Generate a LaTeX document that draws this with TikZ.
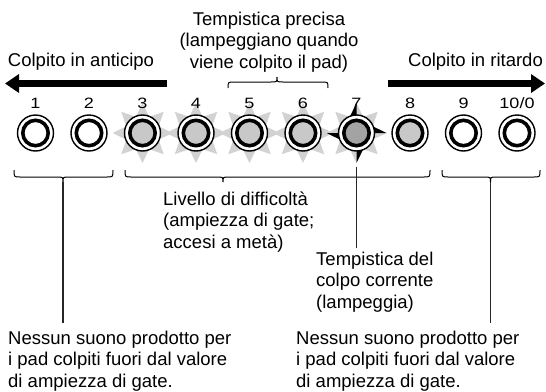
\documentclass[tikz,border=0pt]{standalone}
\usepackage{fontspec}
\setmainfont{Liberation Sans}
\newfontfamily\numfont[FakeStretch=1.2]{Liberation Sans}
\usetikzlibrary{calc,arrows.meta}
\definecolor{padgray}{HTML}{C8C8C8}
\definecolor{paddark}{HTML}{A3A3A3}
\definecolor{raygray}{HTML}{D2D2D2}
\begin{document}
\begin{tikzpicture}[x=1pt,y=-1pt,
  txt/.style={font=\fontsize{18.5}{21.5}\selectfont, inner sep=0pt},
  num/.style={font=\numfont\fontsize{15}{16}\selectfont, inner sep=0pt, anchor=base},
  padouter/.style={circle, draw=black, line width=1.4pt, fill=white, minimum size=36pt, inner sep=0pt},
  padinner/.style={circle, draw=black, line width=3.6pt, minimum size=25.4pt, inner sep=0pt},
  bracepath/.style={line width=1pt},
  lead/.style={line width=1.3pt, draw=black!85},
  bigarrow/.style={line width=7pt, -{Triangle[length=14pt,width=18pt]}}
]
\useasboundingbox (0,0) rectangle (546,391);

% light rays
\foreach \i in {3,...,7}{
  \pgfmathsetmacro\px{35.5+53.5*(\i-1)}
  \begin{scope}[shift={(\px,133)}, yscale=-1]
    \foreach \a in {0,45,...,315}{
      \fill[raygray] (\a:30) -- (\a+22.5:17.5) -- (\a-22.5:17.5) -- cycle;
    }
  \end{scope}
}
% current hit: dark half rays on pad 7
\begin{scope}[shift={(356.5,133)}, yscale=-1]
  \foreach \a in {0,90,180,270}{
    \fill[black] (\a:30) -- (\a+22.5:17.5) -- (\a:16.2) -- cycle;
  }
\end{scope}

% pads
\foreach \i/\lab/\col in {1/1/white,2/2/white,3/3/padgray,4/4/padgray,5/5/padgray,6/6/padgray,7/7/paddark,8/8/padgray,9/9/white,10/{10/0}/white}{
  \pgfmathsetmacro\px{35.5+53.5*(\i-1)}
  \node[padouter] (p\i) at (\px,133) {};
  \node[padinner, fill=\col] (q\i) at (p\i.center) {};
  \node[num] (n\i) at (\px,108.5) {\lab};
}

% arrows
\coordinate (al0) at (167,83.5); \coordinate (al1) at (5,83.5);
\coordinate (ar0) at (388,83.5); \coordinate (ar1) at (545,83.5);
\draw[bigarrow] (al0) -- (al1);
\draw[bigarrow] (ar0) -- (ar1);

% texts
\node[txt, align=center, anchor=north] (tprec) at (269,11.75) {Tempistica precisa\\(lampeggiano quando\\viene colpito il pad)};
\node[txt, anchor=base] (tearly) at (81,66) {Colpito in anticipo};
\node[txt, anchor=base] (tlate) at (475.5,66) {Colpito in ritardo};
\node[txt, align=left, anchor=north west] (tlev) at (163,191.2) {Livello di difficoltà\\(ampiezza di gate;\\accesi a metà)};
\node[txt, align=left, anchor=north west] (tcur) at (316,251.75) {Tempistica del\\colpo corrente\\(lampeggia)};
\node[txt, align=left, anchor=north west] (tnl) at (8,330.75) {Nessun suono prodotto per\\i pad colpiti fuori dal valore\\di ampiezza di gate.};
\node[txt, align=left, anchor=north west] (tnr) at (296,330.75) {Nessun suono prodotto per\\i pad colpiti fuori dal valore\\di ampiezza di gate.};

% top brace
\coordinate (bt) at (277,77);
\draw[bracepath] (228,88) .. controls (228,82) .. (234,82) -- (271,82) .. controls (277,82) .. (bt) .. controls (277,82) .. (283,82) -- (322,82) .. controls (328,82) .. (328,88);

% bottom braces
\coordinate (bl) at (63,182);
\draw[bracepath] (14,170) .. controls (14,177) .. (20,177) -- (57,177) .. controls (63,177) .. (bl) .. controls (63,177) .. (69,177) -- (107,177) .. controls (113,177) .. (113,170);
\coordinate (bm) at (223,182);
\draw[bracepath] (125,170) .. controls (125,177) .. (131,177) -- (217,177) .. controls (223,177) .. (bm) .. controls (223,177) .. (229,177) -- (424,177) .. controls (430,177) .. (430,170);
\coordinate (br) at (490.5,182);
\draw[bracepath] (442,170) .. controls (442,177) .. (448,177) -- (484.5,177) .. controls (490.5,177) .. (br) .. controls (490.5,177) .. (496.5,177) -- (534,177) .. controls (540,177) .. (540,170);

% leaders
\draw[lead, shorten >=8pt] (bl) -- (bl |- tnl.north);
\draw[lead, shorten >=8pt] (br) -- (br |- tnr.north);
\coordinate (c7) at ($(p7.center)+(0,34)$);
\draw[lead, shorten >=4pt] (c7) -- (c7 |- tcur.north);
\end{tikzpicture}
\end{document}
